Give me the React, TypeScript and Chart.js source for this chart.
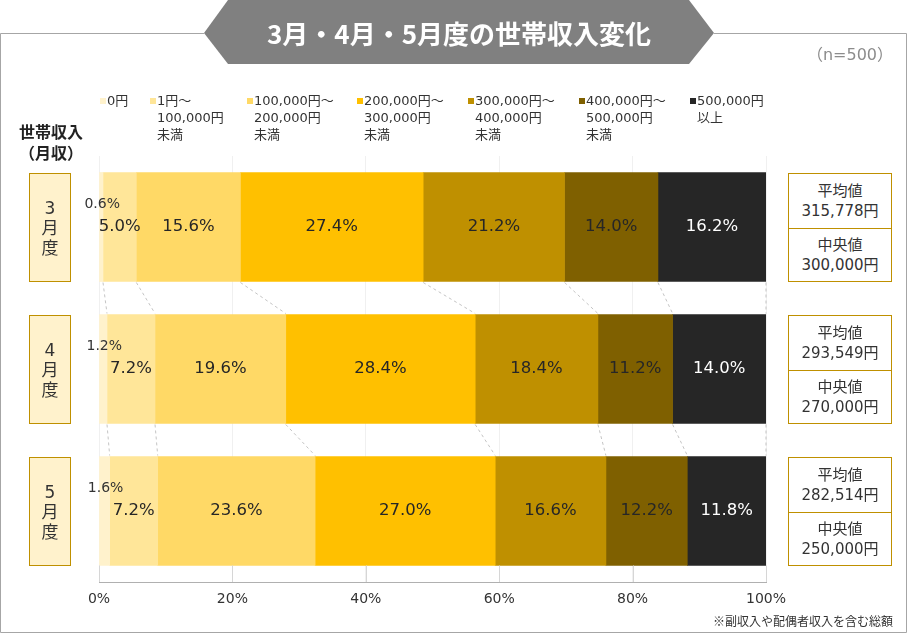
import React, { useEffect, useRef, useState } from 'react';
import { Chart, registerables } from 'chart.js';

Chart.register(...registerables);

// ---- data ----
const months = ['3月度', '4月度', '5月度'];
const monthChars = [['3', '月', '度'], ['4', '月', '度'], ['5', '月', '度']];
const seriesNames = [
  '0円',
  '1円～\n100,000円\n未満',
  '100,000円～\n200,000円\n未満',
  '200,000円～\n300,000円\n未満',
  '300,000円～\n400,000円\n未満',
  '400,000円～\n500,000円\n未満',
  '500,000円\n以上',
];
const s0yen = [0.6, 1.2, 1.6];
const s1to100k = [5.0, 7.2, 7.2];
const s100kto200k = [15.6, 19.6, 23.6];
const s200kto300k = [27.4, 28.4, 27.0];
const s300kto400k = [21.2, 18.4, 16.6];
const s400kto500k = [14.0, 11.2, 12.2];
const s500kPlus = [16.2, 14.0, 11.8];
const seriesValues = [s0yen, s1to100k, s100kto200k, s200kto300k, s300kto400k, s400kto500k, s500kPlus];
const averages = ['315,778円', '293,549円', '282,514円'];
const medians = ['300,000円', '270,000円', '250,000円'];
const xTickValues = [0, 20, 40, 60, 80, 100];
const titleText = '3月・4月・5月度の世帯収入変化';
const sampleText = '（n=500）';
const noteText = '※副収入や配偶者収入を含む総額';

// ---- styles ----
const colors = ['#FFF2CC', '#FFE699', '#FFD966', '#FFC000', '#BF9000', '#7F6000', '#262626'];
const labelColors = ['#333333', '#262626', '#262626', '#262626', '#262626', '#262626', '#ffffff'];
const FONT = "'DejaVu Sans', 'Noto Sans CJK JP', sans-serif";
const JFONT = "'Noto Sans CJK JP', sans-serif";
const GOLD = '#BF9000';
const BAR_T = 109;

const connectorPlugin = {
  id: 'connectors',
  afterDatasetsDraw(chart: any) {
    const ctx = chart.ctx;
    const n = chart.data.datasets.length;
    ctx.save();
    ctx.strokeStyle = '#c4c4c4';
    ctx.lineWidth = 1;
    ctx.setLineDash([3, 3]);
    const rows = chart.data.labels.length;
    for (let r = 0; r < rows - 1; r++) {
      for (let k = 0; k < n; k++) {
        const a = chart.getDatasetMeta(k).data[r];
        const b = chart.getDatasetMeta(k).data[r + 1];
        if (!a || !b) continue;
        ctx.beginPath();
        ctx.moveTo(a.x, a.y + a.height / 2 + 1);
        ctx.lineTo(b.x, b.y - b.height / 2 - 1);
        ctx.stroke();
      }
    }
    ctx.setLineDash([]);
    // short tick marks between last bar and axis
    const last = chart.getDatasetMeta(0).data[rows - 1];
    const xs = chart.scales.x;
    if (last) {
      ctx.strokeStyle = '#d6d6d6';
      for (const v of xTickValues) {
        const px = Math.round(xs.getPixelForValue(v)) + 0.5;
        ctx.beginPath();
        ctx.moveTo(px, last.y + last.height / 2);
        ctx.lineTo(px, chart.chartArea.bottom);
        ctx.stroke();
      }
    }
    ctx.restore();
  },
};

const labelPlugin = {
  id: 'segLabels',
  afterDatasetsDraw(chart: any) {
    const ctx = chart.ctx;
    ctx.save();
    ctx.textAlign = 'center';
    ctx.textBaseline = 'middle';
    chart.data.datasets.forEach((ds: any, k: number) => {
      const meta = chart.getDatasetMeta(k);
      meta.data.forEach((el: any, r: number) => {
        const v = ds.data[r];
        const cx = (el.x + el.base) / 2;
        let cy = el.y;
        if (k === 0) {
          ctx.font = `14px ${FONT}`;
          cy = el.y - 23;
        } else {
          ctx.font = `16.5px ${FONT}`;
        }
        ctx.fillStyle = labelColors[k];
        ctx.fillText(v.toFixed(1) + '%', cx + (k === 0 ? 1 : 0), cy);
      });
    });
    ctx.restore();
  },
};

export default function App() {
  const canvasRef = useRef<HTMLCanvasElement | null>(null);
  const [rowTops, setRowTops] = useState<number[]>([172, 314, 457]);

  useEffect(() => {
    const canvas = canvasRef.current;
    if (!canvas) return;
    const chart = new Chart(canvas, {
      type: 'bar',
      data: {
        labels: months,
        datasets: seriesValues.map((vals, i) => ({
          label: seriesNames[i],
          data: vals,
          backgroundColor: colors[i],
          borderWidth: 0,
          barThickness: BAR_T,
        })),
      },
      options: {
        indexAxis: 'y',
        responsive: false,
        animation: false,
        devicePixelRatio: 1,
        layout: { padding: { left: 99, right: 143, top: 156, bottom: 0 } },
        plugins: {
          legend: { display: false },
          tooltip: { enabled: false },
          title: { display: false },
        },
        scales: {
          x: {
            stacked: true,
            min: 0,
            max: 100,
            afterFit: (s: any) => {
              s.height = 52;
            },
            afterBuildTicks: (s: any) => {
              s.ticks = xTickValues.map((v) => ({ value: v }));
            },
            ticks: {
              callback: (v: any) => v + '%',
              color: '#333333',
              font: { family: FONT, size: 14 },
              padding: 9,
              maxRotation: 0,
            },
            grid: { color: '#f0f0f0', drawTicks: false },
            border: { color: '#b0b0b0' },
          },
          y: {
            stacked: true,
            display: false,
          },
        },
      },
      plugins: [connectorPlugin, labelPlugin],
    } as any);
    const tops = months.map((_, r) => {
      const el: any = chart.getDatasetMeta(0).data[r];
      return Math.round(el.y - el.height / 2);
    });
    setRowTops(tops);
    return () => chart.destroy();
  }, []);

  const legendX = [100, 150, 247, 357, 468, 579, 690];

  return (
    <div style={{ position: 'absolute', left: 0, top: 0, width: 909, height: 634, background: '#fff', fontFamily: FONT, color: '#333' }}>
      <svg width={909} height={634} style={{ position: 'absolute', left: 0, top: 0 }}>
        <path d="M0.5 33.5 H204 M714 33.5 H906.5 V632.5 H0.5 V33.5" stroke="#a6a6a6" strokeWidth={1} fill="none" />
        <polygon points="204,33 228,0 689,0 714,33 689,64 228,64" fill="#808080" />
      </svg>
      <canvas ref={canvasRef} width={909} height={634} style={{ position: 'absolute', left: 0, top: 0, width: 909, height: 634 }} />
      <div style={{ position: 'absolute', left: 204, width: 510, top: 0, height: 64, display: 'flex', alignItems: 'center', justifyContent: 'center', color: '#fff', fontFamily: JFONT, fontWeight: 700, fontSize: 26, whiteSpace: 'nowrap' }}>
        {titleText}
      </div>
      <div style={{ position: 'absolute', right: 16, top: 44, fontSize: 16, color: '#8c8c8c', fontFamily: FONT, lineHeight: '22px' }}>{sampleText}</div>
      {seriesNames.map((name, i) => (
        <div key={i} style={{ position: 'absolute', left: legendX[i], top: 92 }}>
          <div style={{ position: 'absolute', left: 0, top: 6, width: 6, height: 6, background: colors[i] }} />
          <div style={{ position: 'absolute', left: 7, top: 0, fontSize: 13, lineHeight: '17px', whiteSpace: 'pre', color: '#333' }}>{name}</div>
        </div>
      ))}
      <div style={{ position: 'absolute', left: 6, width: 90, top: 121, textAlign: 'center', fontFamily: JFONT, fontWeight: 700, fontSize: 16, lineHeight: '21px', color: '#222' }}>
        世帯収入
        <br />
        （月収）
      </div>
      {monthChars.map((chars, r) => (
        <div key={r} style={{ position: 'absolute', left: 29, top: rowTops[r], width: 42, height: BAR_T, boxSizing: 'border-box', border: `1.5px solid ${GOLD}`, background: '#FFF2CC', display: 'flex', flexDirection: 'column', alignItems: 'center', justifyContent: 'center', fontSize: 17, lineHeight: '20px', color: '#333', fontFamily: FONT }}>
          {chars.map((c, j) => (
            <div key={j}>{c}</div>
          ))}
        </div>
      ))}
      {months.map((_, r) => (
        <div key={r} style={{ position: 'absolute', left: 788, top: rowTops[r], width: 104, height: BAR_T, boxSizing: 'border-box', border: `1.5px solid ${GOLD}`, background: '#fff', fontSize: 15, lineHeight: '20px', color: '#333', textAlign: 'center' }}>
          <div style={{ height: 54, display: 'flex', flexDirection: 'column', justifyContent: 'center', borderBottom: `1.5px solid ${GOLD}` }}>
            <div>平均値</div>
            <div>{averages[r]}</div>
          </div>
          <div style={{ height: 52, display: 'flex', flexDirection: 'column', justifyContent: 'center' }}>
            <div>中央値</div>
            <div>{medians[r]}</div>
          </div>
        </div>
      ))}
      <div style={{ position: 'absolute', right: 16, top: 613, fontSize: 12, lineHeight: '16px', color: '#333', fontFamily: JFONT }}>{noteText}</div>
    </div>
  );
}
